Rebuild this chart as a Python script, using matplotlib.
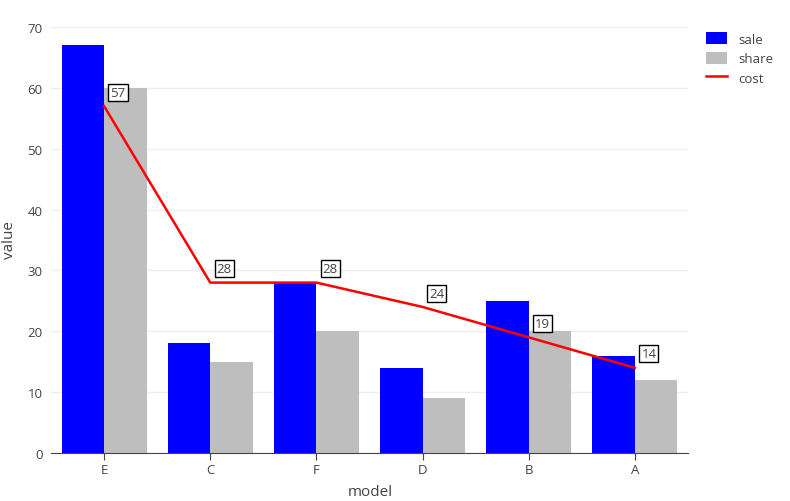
import matplotlib.pyplot as plt
import numpy as np

plt.rcParams['font.family'] = ['Open Sans', 'DejaVu Sans']

models = ['E', 'C', 'F', 'D', 'B', 'A']
sale = [67, 18, 28, 14, 25, 16]
share = [60, 15, 20, 9, 20, 12]
cost = [57, 28, 28, 24, 19, 14]

fig = plt.figure(figsize=(7.9, 5.02), dpi=100)
ax = fig.add_axes([51 / 790, 48 / 502, 637 / 790, 426 / 502])

x = np.arange(len(models))
w = 0.4
b1 = ax.bar(x - w / 2, sale, width=w, color='#0000ff', label='sale', zorder=2)
b2 = ax.bar(x + w / 2, share, width=w, color='#bebebe', label='share', zorder=2)
l1, = ax.plot(x, cost, color='#ff0000', lw=1.8, label='cost', zorder=3)

# labels on the cost line
for xi, c in zip(x, cost):
    ax.annotate(str(c), (xi, c), xytext=(10, 10), textcoords='offset points',
                fontsize=9.5, color='#444444', ha='center', va='center',
                bbox=dict(boxstyle='square,pad=0.15', fc='white', ec='black', lw=1),
                zorder=4)

ax.set_xlim(-0.5, 5.5)
ax.set_ylim(0, 70)
ax.set_xticks(x)
ax.set_xticklabels(models)
ax.set_yticks(range(0, 71, 10))
ax.tick_params(colors='#444444', labelsize=9.5, length=0, pad=6)
ax.tick_params(axis='x', length=5, color='#444444', pad=2)
ax.grid(axis='y', color='#eeeeee', lw=1, zorder=0)
for s in ['top', 'right', 'left']:
    ax.spines[s].set_visible(False)
ax.spines['bottom'].set_color('#444444')
ax.set_xlabel('model', fontsize=11, color='#444444')
ax.set_ylabel('value', fontsize=11, color='#444444')
ax.xaxis.set_label_coords((370 - 51) / 637, -(485 - 454) / 426)
ax.yaxis.set_label_coords(-(51 - 17) / 637, (454 - 240) / 426)

ax.legend([b1, b2, l1], ['sale', 'share', 'cost'], loc='upper left',
          bbox_to_anchor=(1.01, 1.015), frameon=False,
          fontsize=9.5, labelcolor='#444444', handlelength=1.6,
          handleheight=1.0, labelspacing=0.45)

fig.savefig('out.png', dpi=100)
